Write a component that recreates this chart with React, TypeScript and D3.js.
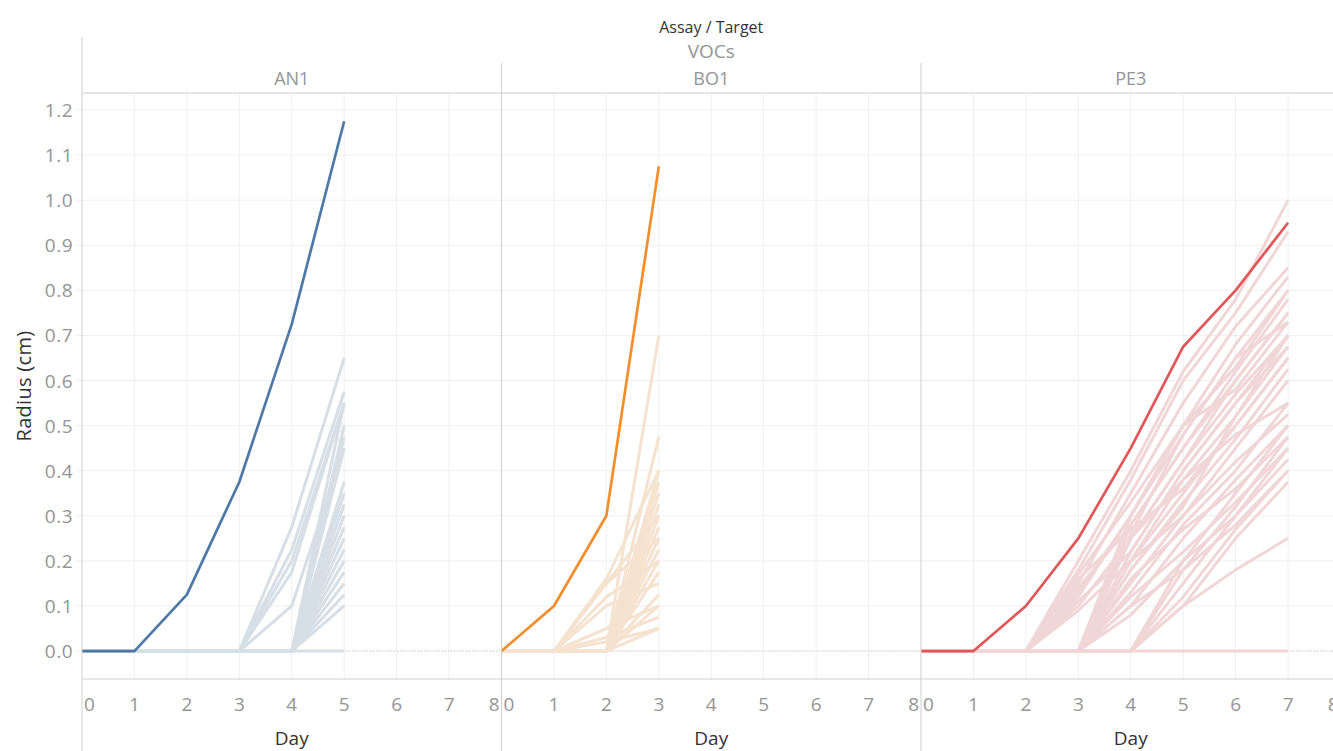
import { useRef, useEffect } from "react";
import * as d3 from "d3";

// panels (Assay / Target)
const panels = ["AN1", "BO1", "PE3"];
const highlightColors = ["#4e79a7", "#f28e2b", "#e15759"];
const fadedColors = ["#d6dee6", "#f5e2cf", "#f1d6d7"];

const yTicks = [0, 0.1, 0.2, 0.3, 0.4, 0.5, 0.6, 0.7, 0.8, 0.9, 1.0, 1.1, 1.2];
const xTicks = [0, 1, 2, 3, 4, 5, 6, 7, 8];

// radius by day, one array per sample
const an1Main = [0, 0, 0.125, 0.375, 0.725, 1.175];
const an1Others = [
  [0, 0, 0, 0, 0, 0],
  [0, 0, 0, 0, 0.275, 0.65],
  [0, 0, 0, 0, 0.225, 0.575],
  [0, 0, 0, 0, 0.2, 0.55],
  [0, 0, 0, 0, 0.175, 0.55],
  [0, 0, 0, 0, 0.1, 0.45],
  [0, 0, 0, 0, 0, 0.55],
  [0, 0, 0, 0, 0, 0.5],
  [0, 0, 0, 0, 0, 0.475],
  [0, 0, 0, 0, 0, 0.45],
  [0, 0, 0, 0, 0, 0.375],
  [0, 0, 0, 0, 0, 0.35],
  [0, 0, 0, 0, 0, 0.325],
  [0, 0, 0, 0, 0, 0.3],
  [0, 0, 0, 0, 0, 0.275],
  [0, 0, 0, 0, 0, 0.25],
  [0, 0, 0, 0, 0, 0.225],
  [0, 0, 0, 0, 0, 0.2],
  [0, 0, 0, 0, 0, 0.175],
  [0, 0, 0, 0, 0, 0.15],
  [0, 0, 0, 0, 0, 0.125],
  [0, 0, 0, 0, 0, 0.1],
];

const bo1Main = [0, 0.1, 0.3, 1.075];
const bo1Others = [
  [0, 0, 0.16, 0.4],
  [0, 0, 0.15, 0.25],
  [0, 0, 0.12, 0.2],
  [0, 0, 0.1, 0.15],
  [0, 0, 0.05, 0.1],
  [0, 0, 0.03, 0.075],
  [0, 0, 0.02, 0.05],
  [0, 0, 0.15, 0.3],
  [0, 0, 0, 0.7],
  [0, 0, 0, 0.475],
  [0, 0, 0, 0.4],
  [0, 0, 0, 0.375],
  [0, 0, 0, 0.35],
  [0, 0, 0, 0.325],
  [0, 0, 0, 0.3],
  [0, 0, 0, 0.275],
  [0, 0, 0, 0.25],
  [0, 0, 0, 0.225],
  [0, 0, 0, 0.2],
  [0, 0, 0, 0.175],
  [0, 0, 0, 0.125],
  [0, 0, 0, 0.1],
  [0, 0, 0, 0.05],
];

const pe3Main = [0, 0, 0.1, 0.25, 0.45, 0.675, 0.8, 0.95];
const pe3Others = [
  [0, 0, 0, 0, 0, 0, 0, 0],
  [0, 0, 0, 0.2, 0.4, 0.62, 0.78, 1.0],
  [0, 0, 0, 0.18, 0.38, 0.6, 0.75, 0.93],
  [0, 0, 0, 0.15, 0.35, 0.55, 0.72, 0.85],
  [0, 0, 0, 0.17, 0.33, 0.5, 0.68, 0.83],
  [0, 0, 0, 0.12, 0.3, 0.48, 0.65, 0.8],
  [0, 0, 0, 0.14, 0.28, 0.45, 0.62, 0.78],
  [0, 0, 0, 0.1, 0.25, 0.42, 0.6, 0.75],
  [0, 0, 0, 0.13, 0.3, 0.5, 0.58, 0.73],
  [0, 0, 0, 0.11, 0.22, 0.4, 0.55, 0.7],
  [0, 0, 0, 0.09, 0.2, 0.38, 0.52, 0.675],
  [0, 0, 0, 0.16, 0.27, 0.36, 0.5, 0.65],
  [0, 0, 0, 0, 0.3, 0.5, 0.63, 0.8],
  [0, 0, 0, 0, 0.28, 0.45, 0.6, 0.75],
  [0, 0, 0, 0, 0.25, 0.42, 0.57, 0.7],
  [0, 0, 0, 0, 0.22, 0.4, 0.55, 0.675],
  [0, 0, 0, 0, 0.2, 0.35, 0.5, 0.65],
  [0, 0, 0, 0, 0.18, 0.33, 0.47, 0.625],
  [0, 0, 0, 0, 0.15, 0.3, 0.45, 0.6],
  [0, 0, 0, 0, 0.25, 0.38, 0.48, 0.55],
  [0, 0, 0, 0, 0.13, 0.28, 0.4, 0.55],
  [0, 0, 0, 0, 0.2, 0.3, 0.42, 0.525],
  [0, 0, 0, 0, 0.1, 0.25, 0.38, 0.5],
  [0, 0, 0, 0, 0.16, 0.27, 0.36, 0.475],
  [0, 0, 0, 0, 0.12, 0.22, 0.33, 0.45],
  [0, 0, 0, 0, 0.08, 0.2, 0.3, 0.425],
  [0, 0, 0, 0, 0.1, 0.18, 0.28, 0.4],
  [0, 0, 0, 0, 0.18, 0.32, 0.52, 0.7],
  [0, 0, 0, 0, 0.26, 0.48, 0.65, 0.73],
  [0, 0, 0, 0, 0, 0.2, 0.35, 0.5],
  [0, 0, 0, 0, 0, 0.15, 0.3, 0.45],
  [0, 0, 0, 0, 0, 0.12, 0.27, 0.4],
  [0, 0, 0, 0, 0, 0.1, 0.25, 0.375],
  [0, 0, 0, 0, 0, 0.1, 0.18, 0.25],
  [0, 0, 0, 0, 0, 0.18, 0.32, 0.475],
];

const mains = [an1Main, bo1Main, pe3Main];
const others = [an1Others, bo1Others, pe3Others];

const FONT = "'Open Sans', Lato, sans-serif";

const App = () => {
  const svgRef = useRef(null);

  useEffect(() => {
    const svg = d3.select(svgRef.current);
    svg.selectAll("*").remove();

    const left = 82;
    const panelW = 419.5;
    const top = 93;
    const bottom = 679;

    const y = d3.scaleLinear().domain([-0.062, 1.2377]).range([bottom, top]);

    const g = svg.append("g");

    // horizontal grid
    g.selectAll("line.hgrid")
      .data(yTicks)
      .join("line")
      .attr("x1", left - 6)
      .attr("x2", left + panelW * 3)
      .attr("y1", (d) => y(d))
      .attr("y2", (d) => y(d))
      .attr("stroke", "#efefef")
      .attr("stroke-width", 1);

    panels.forEach((name, i) => {
      const x0 = left + i * panelW;
      const x = d3.scaleLinear().domain([0, 8]).range([x0, x0 + panelW]);
      const pg = g.append("g");

      // vertical grid
      pg.selectAll("line.vgrid")
        .data(xTicks.slice(1, -1))
        .join("line")
        .attr("x1", (d) => x(d))
        .attr("x2", (d) => x(d))
        .attr("y1", top)
        .attr("y2", bottom)
        .attr("stroke", "#efefef");

      // zero line
      pg.append("line")
        .attr("x1", x0)
        .attr("x2", x0 + panelW)
        .attr("y1", y(0))
        .attr("y2", y(0))
        .attr("stroke", "#c8c8c8")
        .attr("stroke-width", 1)
        .attr("stroke-dasharray", "1,2");

      const line = d3
        .line<number>()
        .x((d, k) => x(k))
        .y((d) => y(d));

      pg.selectAll("path.faded")
        .data(others[i])
        .join("path")
        .attr("d", (d) => line(d))
        .attr("fill", "none")
        .attr("stroke", fadedColors[i])
        .attr("stroke-width", 3)
        .attr("stroke-linejoin", "round");

      pg.append("path")
        .attr("d", line(mains[i]))
        .attr("fill", "none")
        .attr("stroke", highlightColors[i])
        .attr("stroke-width", 2.7)
        .attr("stroke-linejoin", "round");

      // x tick labels
      pg.selectAll("text.xt")
        .data(xTicks)
        .join("text")
        .attr("x", (d) => (d === 0 ? x(d) + 2 : d === 8 ? x(d) - 2 : x(d)))
        .attr("y", 711)
        .attr("text-anchor", (d) => (d === 0 ? "start" : d === 8 ? "end" : "middle"))
        .attr("font-size", 19)
        .attr("font-family", FONT)
        .attr("fill", "#949494")
        .text((d) => d);

      pg.append("text")
        .attr("x", x0 + panelW / 2)
        .attr("y", 745)
        .attr("text-anchor", "middle")
        .attr("font-size", 19)
        .attr("font-family", FONT)
        .attr("fill", "#333")
        .text("Day");

      pg.append("text")
        .attr("x", x0 + panelW / 2)
        .attr("y", 85)
        .attr("text-anchor", "middle")
        .attr("font-size", 18)
        .attr("font-family", FONT)
        .attr("fill", "#949494")
        .text(name);

      // panel border
      pg.append("line")
        .attr("x1", x0)
        .attr("x2", x0)
        .attr("y1", i === 0 ? 37 : 63)
        .attr("y2", 751)
        .attr("stroke", "#cfcfcf");
    });

    // header rule and x axis line
    g.append("line")
      .attr("x1", left)
      .attr("x2", 1333)
      .attr("y1", top)
      .attr("y2", top)
      .attr("stroke", "#dcdcdc")
      .attr("stroke-width", 1.5);
    g.append("line")
      .attr("x1", left)
      .attr("x2", 1333)
      .attr("y1", bottom)
      .attr("y2", bottom)
      .attr("stroke", "#cfcfcf");

    // y ticks
    g.selectAll("text.yt")
      .data(yTicks)
      .join("text")
      .attr("x", 73)
      .attr("y", (d) => y(d) + 7)
      .attr("text-anchor", "end")
      .attr("font-size", 19)
      .attr("letter-spacing", 0.5)
      .attr("font-family", FONT)
      .attr("fill", "#949494")
      .text((d) => d.toFixed(1));

    g.append("text")
      .attr("transform", `translate(31,386) rotate(-90)`)
      .attr("text-anchor", "middle")
      .attr("font-size", 20)
      .attr("letter-spacing", 0.3)
      .attr("font-family", FONT)
      .attr("fill", "#333")
      .text("Radius (cm)");

    const cx = left + (panelW * 3) / 2;
    g.append("text")
      .attr("x", cx)
      .attr("y", 33)
      .attr("text-anchor", "middle")
      .attr("font-size", 16)
      .attr("font-family", FONT)
      .attr("fill", "#333")
      .text("Assay / Target");
    g.append("text")
      .attr("x", cx)
      .attr("y", 58)
      .attr("text-anchor", "middle")
      .attr("font-size", 19)
      .attr("font-family", FONT)
      .attr("fill", "#949494")
      .text("VOCs");
  }, []);

  return (
    <div style={{ position: "fixed", left: 0, top: 0, width: 1333, height: 751, background: "#fff" }}>
      <svg ref={svgRef} width={1333} height={751} />
    </div>
  );
};

export default App;
